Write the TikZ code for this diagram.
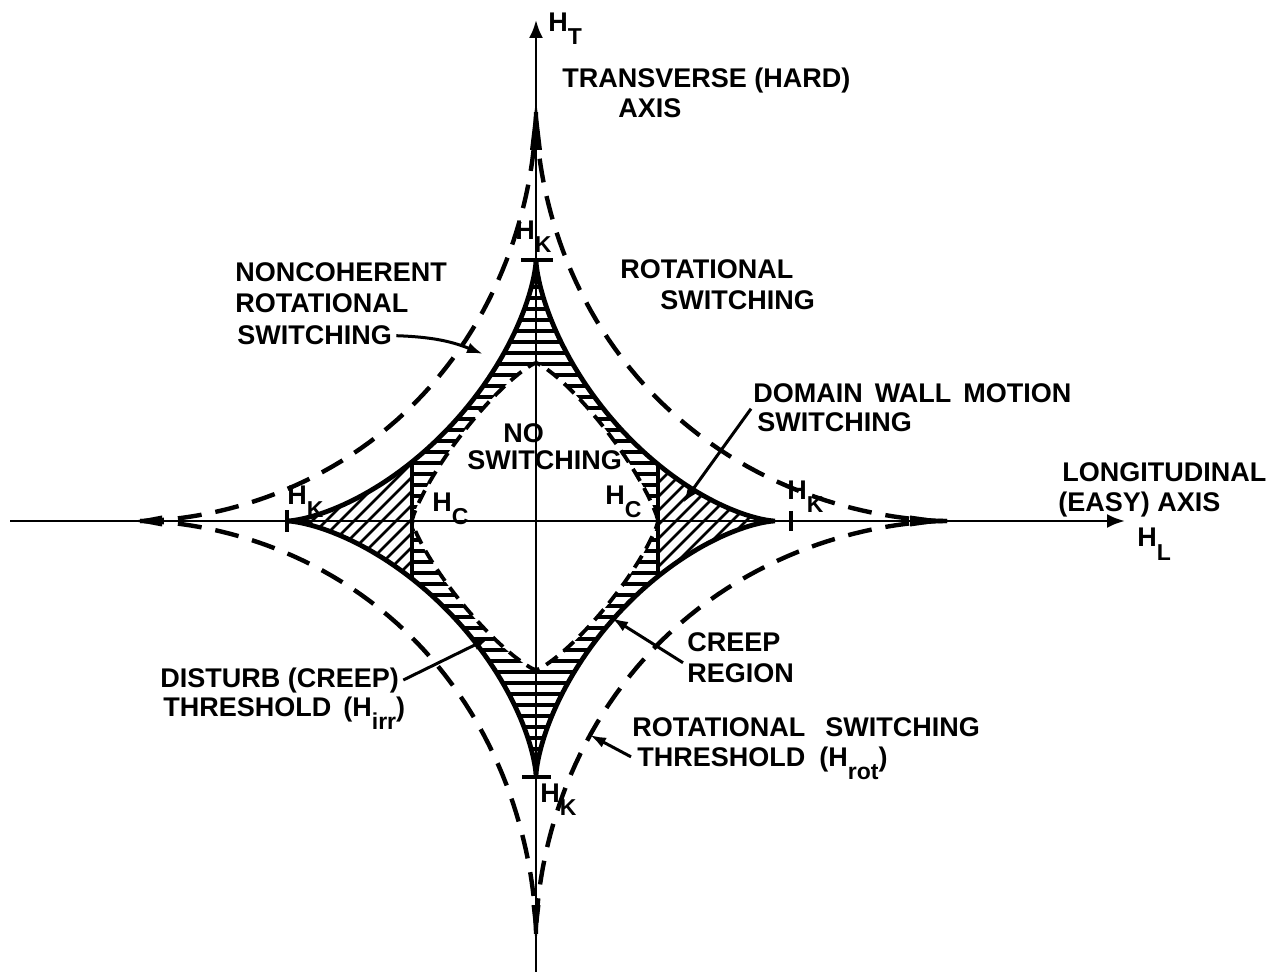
\documentclass[tikz,border=0pt]{standalone}
\usepackage{fontspec}
\newfontfamily\labfont{Liberation Sans}
\usetikzlibrary{arrows.meta}
\newcommand{\lsub}[1]{\raisebox{-6.5pt}{\fontsize{11.5}{12}\selectfont #1}}
\def\ox{536}
\def\oy{521}
\def\astpath{plot[domain=0:90,samples=70] ({\ox+239*pow(cos(\x),3)},{\oy-261*pow(sin(\x),3)})
 -- plot[domain=90:0,samples=70] ({\ox-249*pow(cos(\x),3)},{\oy-261*pow(sin(\x),3)})
 -- plot[domain=0:90,samples=70] ({\ox-249*pow(cos(\x),3)},{\oy+255*pow(sin(\x),3)})
 -- plot[domain=90:0,samples=70] ({\ox+239*pow(cos(\x),3)},{\oy+255*pow(sin(\x),3)}) -- cycle}
\def\irrpath{plot[domain=0:90,samples=50] ({\ox+122*pow(max(cos(\x),0.001),1.6)},{\oy-158*pow(max(sin(\x),0.001),1.6)})
 -- plot[domain=90:0,samples=50] ({\ox-124*pow(max(cos(\x),0.001),1.6)},{\oy-158*pow(max(sin(\x),0.001),1.6)})
 -- plot[domain=0:90,samples=50] ({\ox-124*pow(max(cos(\x),0.001),1.6)},{\oy+149*pow(max(sin(\x),0.001),1.6)})
 -- plot[domain=90:0,samples=50] ({\ox+122*pow(max(cos(\x),0.001),1.6)},{\oy+149*pow(max(sin(\x),0.001),1.6)}) -- cycle}
\tikzset{
  axisline/.style={line width=1.4pt},
  astroidline/.style={line width=2.4pt},
  rotline/.style={line width=2.2pt, dash pattern=on 12pt off 7pt},
  irrline/.style={line width=1.9pt, dash pattern=on 7pt off 4pt},
  hatchline/.style={line width=1.7pt},
  diagline/.style={line width=1.4pt},
  hcline/.style={line width=1.6pt},
  ticklines/.style={line width=1.6pt},
  lbl/.style={font=\labfont\bfseries\fontsize{13.5}{16}\selectfont, inner sep=0pt, anchor=base west},
  ptr/.style={line width=1.5pt, -{Latex[length=8pt,width=5.5pt]}},
  axarrow/.style={-{Latex[length=9pt,width=7pt]}}
}
\begin{document}
\begin{tikzpicture}[x=0.5pt,y=-0.5pt]
\useasboundingbox (0,0) rectangle (1274,972);
% horizontal hatching (creep region)
\begin{scope}[even odd rule]
  \clip \astpath;
  \clip (412,150) rectangle (658,900) \irrpath;
  \foreach \y in {265,276,...,782} \draw[hatchline] (400,\y) -- (670,\y);
\end{scope}
% diagonal hatching (domain wall motion switching)
\begin{scope}
  \clip \astpath;
  \clip (0,0) rectangle (412,972) (658,0) rectangle (1274,972);
  \foreach \c in {200,214,...,900} \draw[diagline] (\c-140,661) -- (\c+140,381);
\end{scope}
% H_c lines
\draw[hcline] (412,461.8) -- (412,578.9);
\draw[hcline] (658,464.3) -- (658,576.4);
% axes
\coordinate (xl) at (10,521);
\coordinate (xr) at (1125,521);
\coordinate (yb) at (536,972);
\coordinate (yt) at (536,20);
\draw[axisline,axarrow] (xl) -- (xr);
\draw[axisline,axarrow] (yb) -- (yt);
% switching astroid
\draw[astroidline] \astpath;
% rotational switching threshold
\draw[rotline] plot[domain=0:90,samples=80] ({\ox+411*pow(cos(\x),3)*sqrt(abs(cos(\x)))},{\oy-409*pow(sin(\x),3)*sqrt(abs(sin(\x)))});
\draw[rotline] plot[domain=0:90,samples=80] ({\ox-396*pow(cos(\x),3)*sqrt(abs(cos(\x)))},{\oy-409*pow(sin(\x),3)*sqrt(abs(sin(\x)))});
\draw[rotline] plot[domain=0:90,samples=80] ({\ox-396*pow(cos(\x),3)*sqrt(abs(cos(\x)))},{\oy+414*pow(sin(\x),3)*sqrt(abs(sin(\x)))});
\draw[rotline] plot[domain=0:90,samples=80] ({\ox+411*pow(cos(\x),3)*sqrt(abs(cos(\x)))},{\oy+414*pow(sin(\x),3)*sqrt(abs(sin(\x)))});
% spikes at the dashed cusps
\fill (133,521) -- (162,515.5) -- (162,526.5) -- cycle;
\fill (949,521) -- (910,515.5) -- (910,526.5) -- cycle;
\fill (536,100) -- (530,150) -- (542,150) -- cycle;
\fill (536,945) -- (531.5,905) -- (540.5,905) -- cycle;
% disturb threshold
\draw[irrline] \irrpath;
% H_K ticks
\draw[ticklines] (521,260) -- (553,260);
\draw[ticklines] (522,777) -- (551,777);
\draw[ticklines] (287,510) -- (287,532);
\draw[ticklines] (791,511) -- (791,531);
% labels
\node[lbl] (tHT) at (548,32) {H\lsub{T}};
\node[lbl] (tTrans) at (562,88) {TRANSVERSE (HARD)};
\node[lbl] (tAxis) at (618,118) {AXIS};
\node[lbl] (ncA) at (235,282) {NONCOHERENT};
\node[lbl] (ncB) at (235,313) {ROTATIONAL};
\node[lbl] (ncC) at (237,345) {SWITCHING};
\node[lbl] (rsA) at (620,279) {ROTATIONAL};
\node[lbl] (rsB) at (660,310) {SWITCHING};
\node[lbl] (dwA) at (753,403) {DOMAIN\hspace{6pt}WALL\hspace{6pt}MOTION};
\node[lbl] (dwB) at (757,432) {SWITCHING};
\node[lbl] (noA) at (503,443) {NO};
\node[lbl] (noB) at (467,470) {SWITCHING};
\node[lbl] (lgA) at (1062,482) {LONGITUDINAL};
\node[lbl] (lgB) at (1058,512) {(EASY) AXIS};
\node[lbl] (tHL) at (1137,547) {H\lsub{L}};
\node[lbl] (hkT) at (515,240) {H\lsub{K}};
\node[lbl] (hkL) at (287,505) {H\lsub{K}};
\node[lbl] (hcL) at (432,512) {H\lsub{C}};
\node[lbl] (hcR) at (605,505) {H\lsub{C}};
\node[lbl] (hkR) at (787,500) {H\lsub{K}};
\node[lbl] (hkB) at (540,802) {H\lsub{K}};
\node[lbl] (crA) at (687,651) {CREEP};
\node[lbl] (crB) at (687,682) {REGION};
\node[lbl] (rtA) at (632,736) {ROTATIONAL\hspace{10pt}SWITCHING};
\node[lbl] (rtB) at (637,766) {THRESHOLD\hspace{7pt}(H\lsub{rot})};
\node[lbl] (diA) at (160,687) {DISTURB (CREEP)};
\node[lbl] (diB) at (163,716) {THRESHOLD\hspace{6pt}(H\lsub{irr})};
% pointer arrows
\coordinate (ncTip) at (483,354);
\coordinate (dwTip) at (683,503);
\coordinate (crTip) at (612,618);
\coordinate (rtTip) at (590,735);
\coordinate (diTip) at (489,638);
\draw[ptr] ([xshift=2pt]ncC.east) to[bend left=10] (ncTip);
\draw[ptr] ([xshift=-3pt,yshift=2pt]dwB.north west) -- (dwTip);
\draw[ptr] ([xshift=-2pt]crB.north west) -- (crTip);
\draw[ptr] ([xshift=-3pt,yshift=3pt]rtB.west) -- (rtTip);
\draw[ptr] ([xshift=2pt]diA.east) -- (diTip);
\end{tikzpicture}
\end{document}
